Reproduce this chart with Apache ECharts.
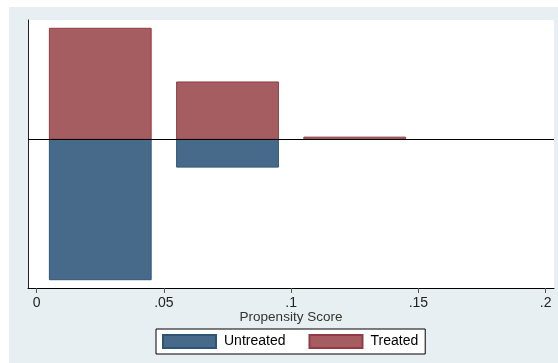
<!DOCTYPE html>
<html>
<head>
<meta charset="utf-8">
<script src="https://cdn.jsdelivr.net/npm/echarts@6/dist/echarts.min.js"></script>
<style>
html, body { margin: 0; padding: 0; background: #fff; }
#wrap { position: absolute; left: 9px; top: 7px; width: 549px; height: 356px; background: #e8eff2; }
#chart { width: 549px; height: 356px; }
</style>
</head>
<body>
<div id="wrap"><div id="chart"></div></div>
<script>
// histogram bins of the propensity score (bin start, bin width 0.05)
const binStart = [0, 0.05, 0.1]
const binWidth = 0.05
// share of each group in each bin
const treated = [0.655, 0.338, 0.012]
const untreated = [0.830, 0.165, 0]
const xTicks = [0, 0.05, 0.1, 0.15, 0.2]

const barFill = 0.8 // part of the bin that the bar covers

function makeBars(values, sign) {
    return values.map(function (v, i) {
        return [binStart[i], binStart[i] + binWidth, sign * v]
    }).filter(function (d) { return d[2] !== 0 })
}

function renderBar(params, api) {
    const x0 = api.value(0), x1 = api.value(1), h = api.value(2)
    const pad = (x1 - x0) * (1 - barFill) / 2
    const p0 = api.coord([x0 + pad, 0])
    const p1 = api.coord([x1 - pad, h])
    return {
        type: 'rect',
        shape: {
            x: p0[0],
            y: Math.min(p0[1], p1[1]),
            width: p1[0] - p0[0],
            height: Math.abs(p1[1] - p0[1])
        },
        style: api.style()
    }
}

const chart = echarts.init(document.getElementById('chart'))
chart.setOption({
    animation: false,
    textStyle: { fontFamily: 'Liberation Sans, Arial, sans-serif' },
    grid: {
        left: 19,
        right: 4,
        top: 13,
        bottom: 75,
        show: true,
        backgroundColor: '#fff',
        borderWidth: 0
    },
    legend: {
        data: ['Untreated', 'Treated'],
        left: 147,
        top: 322,
        icon: 'rect',
        itemWidth: 53,
        itemHeight: 13,
        itemGap: 23,
        padding: [5, 7, 5, 6],
        backgroundColor: '#fff',
        borderColor: '#000',
        borderWidth: 1,
        textStyle: { fontSize: 14, color: '#000', padding: [0, 0, 0, 3] }
    },
    xAxis: {
        type: 'value',
        min: -0.0034,
        max: 0.2033,
        name: 'Propensity Score',
        nameLocation: 'middle',
        nameGap: 22,
        nameMoveOverlap: false,
        nameTextStyle: { fontSize: 13.5, color: '#333' },
        splitLine: { show: false },
        axisLine: { onZero: false, lineStyle: { color: '#000', width: 1 } },
        axisTick: {
            customValues: xTicks,
            length: 5,
            lineStyle: { color: '#555' }
        },
        axisLabel: {
            customValues: xTicks,
            fontSize: 14,
            color: '#222',
            margin: 8,
            formatter: function (v) {
                return v === 0 ? '0' : String(v).replace(/^0/, '')
            }
        }
    },
    yAxis: {
        type: 'value',
        min: -0.879,
        max: 0.704,
        splitLine: { show: false },
        axisLabel: { show: false },
        axisTick: { show: false },
        axisLine: { show: true, onZero: false, lineStyle: { color: '#222', width: 1 } }
    },
    series: [
        {
            name: 'Untreated',
            type: 'custom',
            renderItem: renderBar,
            encode: { x: [0, 1], y: 2 },
            itemStyle: { color: '#476a8a', borderColor: '#2d5576', borderWidth: 1 },
            data: makeBars(untreated, -1),
            markLine: {
                silent: true,
                symbol: ['none', 'none'],
                label: { show: false },
                lineStyle: { color: '#000', type: 'solid', width: 1 },
                data: [{ yAxis: 0 }]
            }
        },
        {
            name: 'Treated',
            type: 'custom',
            renderItem: renderBar,
            encode: { x: [0, 1], y: 2 },
            itemStyle: { color: '#a65d61', borderColor: '#903c43', borderWidth: 1 },
            data: makeBars(treated, 1)
        }
    ]
})
</script>
</body>
</html>
